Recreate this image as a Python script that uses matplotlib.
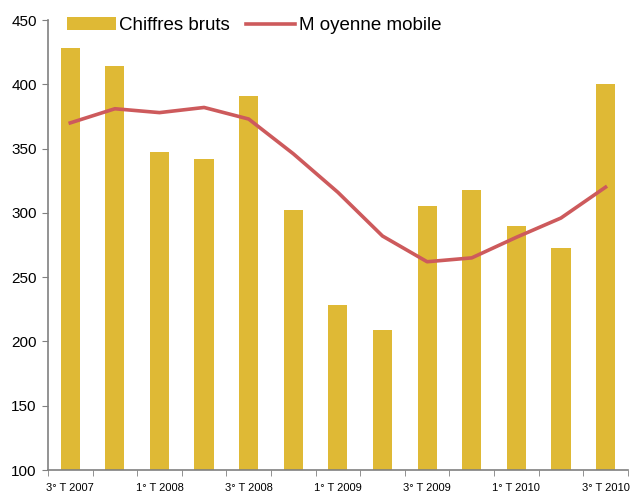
import matplotlib.pyplot as plt
import numpy as np

plt.rcParams['font.family'] = ['Liberation Sans', 'DejaVu Sans']

trimestres = ["3° T 2007", "4° T 2007", "1° T 2008", "2° T 2008", "3° T 2008", "4° T 2008",
              "1° T 2009", "2° T 2009", "3° T 2009", "4° T 2009", "1° T 2010", "2° T 2010",
              "3° T 2010"]
chiffres_bruts = [428, 414, 347, 342, 391, 302, 228, 209, 305, 318, 290, 273, 400]
moyenne_mobile = [370, 381, 378, 382, 373, 346, 316, 282, 262, 265, 281, 296, 320]

x = np.arange(len(trimestres))

fig = plt.figure(figsize=(6.31, 4.95), dpi=100)
ax = fig.add_axes([0.076, 0.0505, 0.919, 0.909])

barres = ax.bar(x, chiffres_bruts, width=0.43, color="#DFB935", label="Chiffres bruts", zorder=2)
ligne, = ax.plot(x, moyenne_mobile, color="#CD5A5C", lw=2.6, label="M oyenne mobile", zorder=3)

ax.set_xlim(-0.5, len(x) - 0.5)
ax.set_ylim(100, 450)
ax.set_yticks(range(100, 451, 50))

ax.set_xticks(x[::2])
ax.set_xticklabels(trimestres[::2], fontsize=8)
ax.set_xticks(np.arange(-0.5, len(x), 1), minor=True)
ax.tick_params(axis="x", which="major", length=0, pad=9)
ax.tick_params(axis="x", which="minor", length=4, color="#808080", direction="out")
ax.tick_params(axis="y", labelsize=11, length=4, color="#808080", pad=4)

for s in ["top", "right"]:
    ax.spines[s].set_visible(False)
for s in ["left", "bottom"]:
    ax.spines[s].set_color("#808080")
    ax.spines[s].set_linewidth(1.2)

fig.legend([barres, ligne], ["Chiffres bruts", "M oyenne mobile"],
           loc="upper left", bbox_to_anchor=(0.106, 0.965), ncol=2, frameon=False,
           fontsize=13.5, handlelength=2.6, handletextpad=0.2, columnspacing=0.85,
           handleheight=0.65, borderpad=0, borderaxespad=0)

fig.savefig("out.png", dpi=100)
